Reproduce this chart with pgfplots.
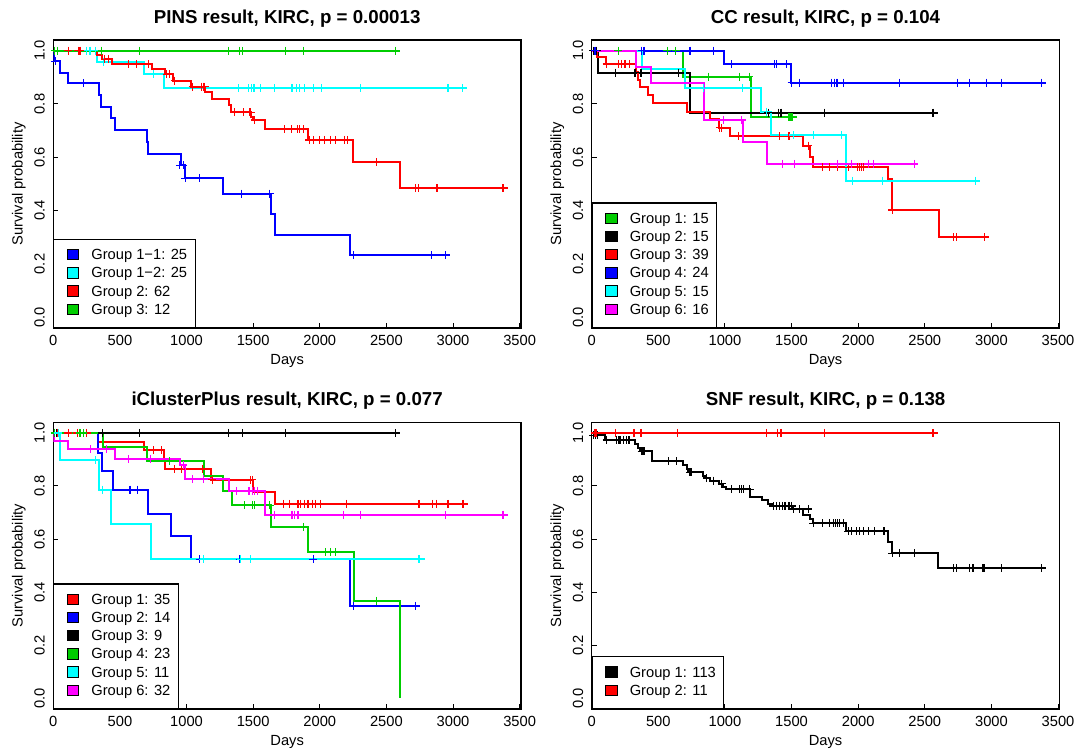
\documentclass[border=0pt]{standalone}
\usepackage{pgfplots}
\pgfplotsset{compat=1.18}
\usepackage{fontspec}
\setmainfont{Liberation Sans}
\definecolor{rblue}{RGB}{0,0,255}
\definecolor{rcyan}{RGB}{0,255,255}
\definecolor{rred}{RGB}{255,0,0}
\definecolor{rgreen}{RGB}{0,205,0}
\definecolor{rmag}{RGB}{255,0,255}
\newcommand{\tfont}{\fontsize{7.35}{8.8}\selectfont}
\pgfplotsset{
 km/.style={
  scale only axis, width=233.85pt, height=144pt,
  xmin=0, xmax=3510, ymin=-0.04, ymax=1.04,
  xtick={0,500,1000,1500,2000,2500,3000,3500},
  ytick={0,0.2,0.4,0.6,0.8,1},
  tick align=inside, tick pos=left, major tick length=2.5pt,
  axis line style={line width=0.65pt},
  every tick/.style={black, line width=0.5pt},
  tick label style={font=\tfont},
  /pgf/number format/assume math mode=true,
  xticklabel style={/pgf/number format/1000 sep={}, anchor=base},
  xticklabel shift=8.85pt,
  yticklabel={\pgfmathprintnumber[fixed,fixed zerofill,precision=1]{\tick}},
  yticklabel style={rotate=90, anchor=base},
  yticklabel shift=4.35pt,
  every axis title shift=0pt,
  title style={at={(axis description cs:0.5,1)}, anchor=base, yshift=8.35pt, font=\bfseries\fontsize{9.35}{11}\selectfont},
  xlabel={Days}, ylabel={Survival probability},
  xlabel style={at={(axis description cs:0.5,0)}, anchor=base, yshift=-18.5pt, font=\tfont},
  ylabel style={at={(axis description cs:-0.0655,0.5)}, anchor=base, font=\tfont},
  legend style={at={(0,0)}, anchor=south west, draw=black, line width=0.6pt, fill=white, font=\tfont,
     inner xsep=3.5pt, inner ysep=4.6pt, row sep=1.45pt, cells={anchor=west},
     nodes={inner sep=0.5pt, text depth=0.15em}},
  legend image code/.code={\path (-2.8pt,0) (11.35pt,0); \draw[#1,draw=black,line width=0.4pt] (0pt,-1.85pt) rectangle (5.85pt,3.25pt);},
 },
 kml/.style={const plot, line width=1pt, forget plot, mark=none},
 kmc/.style={only marks, mark=+, mark size=2pt, mark options={line width=0.6pt}, forget plot},
}
\begin{document}
\begin{tikzpicture}
\useasboundingbox (0,0) rectangle (538.5pt,376.5pt);
% ---------------- PINS
\begin{axis}[km, at={(26.65pt,212.5pt)}, anchor=south west, title={PINS result, KIRC, p = 0.00013}]
\addplot[rblue,kml] coordinates {(0,1)(3,0.96)(50,0.918)(107,0.877)(342,0.833)(357,0.79)(430,0.746)(462,0.702)(700,0.658)(707,0.614)(955,0.57)(992,0.522)(1270,0.464)(1637,0.386)(1662,0.309)(2225,0.232)(2975,0.232)};
\addplot[rblue,kmc] coordinates {(15,0.96)(225,0.877)(950,0.57)(975,0.57)(992,0.522)(1100,0.522)(1412,0.464)(1625,0.464)(2255,0.232)(2837,0.232)(2945,0.232)};
\addplot[rcyan,kml] coordinates {(0,1)(330,0.959)(680,0.9125)(832,0.859)(3107,0.859)};
\addplot[rcyan,kmc] coordinates {(250,1)(275,1)(317,1)(375,0.959)(750,0.9125)(1387,0.859)(1462,0.859)(1487,0.859)(1500,0.859)(1512,0.859)(1555,0.859)(1662,0.859)(1792,0.859)(1825,0.859)(1845,0.859)(1887,0.859)(1950,0.859)(2012,0.859)(2305,0.859)(2962,0.859)(3070,0.859)};
\addplot[rred,kml] coordinates {(0,1)(325,0.984)(362,0.968)(437,0.949)(737,0.93)(837,0.911)(895,0.8875)(1037,0.865)(1142,0.845)(1192,0.8175)(1317,0.796)(1337,0.769)(1487,0.75)(1500,0.74)(1592,0.706)(1912,0.665)(2250,0.581)(2600,0.484)(3412,0.484)};
\addplot[rred,kmc] coordinates {(112,1)(187,1)(200,1)(387,0.968)(412,0.968)(562,0.949)(625,0.949)(712,0.949)(850,0.911)(875,0.911)(912,0.8875)(1045,0.865)(1112,0.865)(1125,0.865)(1137,0.865)(1362,0.769)(1430,0.769)(1475,0.769)(1482,0.769)(1512,0.74)(1737,0.706)(1787,0.706)(1830,0.706)(1845,0.706)(1880,0.706)(1920,0.665)(1955,0.665)(2000,0.665)(2037,0.665)(2080,0.665)(2117,0.665)(2187,0.665)(2205,0.665)(2425,0.581)(2720,0.484)(2742,0.484)(2880,0.484)(3375,0.484)};
\addplot[rgreen,kml] coordinates {(0,1)(2600,1)};
\addplot[rgreen,kmc] coordinates {(12,1)(30,1)(362,1)(645,1)(1312,1)(1395,1)(1417,1)(1742,1)(1875,1)(2567,1)};
\addlegendimage{fill=rblue}\addlegendentry{Group 1−1: 25}
\addlegendimage{fill=rcyan}\addlegendentry{Group 1−2: 25}
\addlegendimage{fill=rred}\addlegendentry{Group 2: 62}
\addlegendimage{fill=rgreen}\addlegendentry{Group 3: 12}
\end{axis}
% ---------------- CC
\begin{axis}[km, at={(295.85pt,212.5pt)}, anchor=south west, title={CC result, KIRC, p = 0.104}]
\addplot[rgreen,kml] coordinates {(0,1)(682,0.9025)(1192,0.75)(1537,0.75)};
\addplot[rgreen,kmc] coordinates {(200,1)(567,1)(630,1)(875,0.9025)(1107,0.9025)(1182,0.9025)(1480,0.75)(1490,0.75)(1497,0.75)(1505,0.75)};
\addplot[black,kml] coordinates {(0,1)(50,0.9175)(735,0.7675)(2600,0.7675)};
\addplot[black,kmc] coordinates {(12,1)(37,1)(180,0.9175)(325,0.9175)(370,0.9175)(650,0.9175)(1325,0.7675)(1400,0.7675)(1420,0.7675)(1745,0.7675)(2562,0.7675)};
\addplot[rred,kml] coordinates {(0,1)(42,0.975)(107,0.95)(332,0.92)(345,0.89)(362,0.865)(425,0.834)(460,0.8025)(712,0.771)(887,0.742)(955,0.711)(1037,0.679)(1587,0.644)(1637,0.6025)(1662,0.5625)(2225,0.5175)(2257,0.4025)(2605,0.30)(2982,0.30)};
\addplot[rred,kmc] coordinates {(112,0.95)(200,0.95)(225,0.95)(250,0.95)(282,0.95)(962,0.711)(975,0.711)(1100,0.679)(1412,0.679)(1480,0.679)(1625,0.644)(1730,0.5625)(1782,0.5625)(1842,0.5625)(1925,0.5625)(1992,0.5625)(2007,0.5625)(2025,0.5625)(2042,0.5625)(2257,0.4025)(2717,0.30)(2737,0.30)(2950,0.30)};
\addplot[rblue,kml] coordinates {(0,1)(992,0.949)(1492,0.88)(3412,0.88)};
\addplot[rblue,kmc] coordinates {(25,1)(375,1)(392,1)(737,1)(912,1)(1050,0.949)(1370,0.949)(1387,0.949)(1462,0.949)(1500,0.88)(1557,0.88)(1800,0.88)(1825,0.88)(1835,0.88)(1845,0.88)(1887,0.88)(2307,0.88)(2745,0.88)(2837,0.88)(2962,0.88)(3075,0.88)(3375,0.88)};
\addplot[rcyan,kml] coordinates {(0,1)(375,0.93)(700,0.859)(1270,0.771)(1342,0.684)(1912,0.5125)(2912,0.5125)};
\addplot[rcyan,kmc] coordinates {(837,0.859)(1132,0.859)(1310,0.771)(1512,0.684)(1667,0.684)(1875,0.684)(1957,0.5125)(2182,0.5125)(2882,0.5125)};
\addplot[rmag,kml] coordinates {(0,1)(332,0.9375)(445,0.8775)(840,0.74)(1132,0.659)(1317,0.575)(2450,0.575)};
\addplot[rmag,kmc] coordinates {(992,0.74)(1125,0.74)(1432,0.575)(1520,0.575)(1845,0.575)(1950,0.575)(2075,0.575)(2112,0.575)(2420,0.575)};
\addlegendimage{fill=rgreen}\addlegendentry{Group 1: 15}
\addlegendimage{fill=black}\addlegendentry{Group 2: 15}
\addlegendimage{fill=rred}\addlegendentry{Group 3: 39}
\addlegendimage{fill=rblue}\addlegendentry{Group 4: 24}
\addlegendimage{fill=rcyan}\addlegendentry{Group 5: 15}
\addlegendimage{fill=rmag}\addlegendentry{Group 6: 16}
\end{axis}
% ---------------- iClusterPlus
\begin{axis}[km, at={(26.65pt,22pt)}, anchor=south west, height=143.35pt, title={iClusterPlus result, KIRC, p = 0.077}]
\addplot[rred,kml] coordinates {(0,1)(337,0.966)(682,0.935)(832,0.90)(842,0.864)(1187,0.823)(1500,0.779)(1662,0.733)(3112,0.733)};
\addplot[rred,kmc] coordinates {(30,1)(112,1)(180,1)(195,1)(250,1)(750,0.935)(812,0.935)(907,0.864)(962,0.864)(1117,0.864)(1192,0.823)(1482,0.823)(1492,0.823)(1725,0.733)(1775,0.733)(1837,0.733)(1855,0.733)(1887,0.733)(1912,0.733)(1945,0.733)(1970,0.733)(2007,0.733)(2200,0.733)(2745,0.733)(2845,0.733)(2875,0.733)(2962,0.733)(3075,0.733)};
\addplot[rblue,kml] coordinates {(0,1)(337,0.926)(362,0.857)(445,0.786)(707,0.696)(882,0.61)(1037,0.524)(2225,0.348)(2750,0.348)};
\addplot[rblue,kmc] coordinates {(575,0.786)(630,0.786)(1100,0.524)(1400,0.524)(1950,0.524)(2255,0.348)(2717,0.348)};
\addplot[black,kml] coordinates {(0,1)(2600,1)};
\addplot[black,kmc] coordinates {(12,1)(25,1)(367,1)(645,1)(1312,1)(1420,1)(1742,1)(2567,1)};
\addplot[rgreen,kml] coordinates {(0,1)(375,0.948)(700,0.894)(1132,0.839)(1270,0.782)(1342,0.727)(1637,0.646)(1912,0.552)(2255,0.368)(2600,0)};
\addplot[rgreen,kmc] coordinates {(12,1)(200,1)(225,1)(870,0.894)(1432,0.727)(1492,0.727)(1512,0.727)(1625,0.727)(1875,0.646)(2045,0.552)(2080,0.552)(2120,0.552)(2425,0.368)};
\addplot[rcyan,kml] coordinates {(0,1)(50,0.898)(342,0.786)(430,0.655)(732,0.524)(2787,0.524)};
\addplot[rcyan,kmc] coordinates {(37,1)(317,0.898)(370,0.786)(1125,0.524)(1405,0.524)(1480,0.524)(2745,0.524)};
\addplot[rmag,kml] coordinates {(0,1)(2,0.97)(107,0.938)(462,0.9015)(950,0.879)(992,0.825)(1317,0.782)(1587,0.692)(3412,0.692)};
\addplot[rmag,kmc] coordinates {(280,0.938)(400,0.938)(562,0.9015)(732,0.9015)(975,0.879)(1042,0.825)(1130,0.825)(1375,0.782)(1462,0.782)(1475,0.782)(1495,0.782)(1512,0.782)(1530,0.782)(1662,0.692)(1792,0.692)(1812,0.692)(1837,0.692)(2180,0.692)(2305,0.692)(2942,0.692)(3375,0.692)};
\addlegendimage{fill=rred}\addlegendentry{Group 1: 35}
\addlegendimage{fill=rblue}\addlegendentry{Group 2: 14}
\addlegendimage{fill=black}\addlegendentry{Group 3: 9}
\addlegendimage{fill=rgreen}\addlegendentry{Group 4: 23}
\addlegendimage{fill=rcyan}\addlegendentry{Group 5: 11}
\addlegendimage{fill=rmag}\addlegendentry{Group 6: 32}
\end{axis}
% ---------------- SNF
\begin{axis}[km, at={(295.85pt,22pt)}, anchor=south west, height=143.35pt, title={SNF result, KIRC, p = 0.138}]
\addplot[black,kml] coordinates {(0,1)(25,0.991)(100,0.973)(325,0.96)(345,0.945)(360,0.93)(450,0.893)(682,0.879)(712,0.8625)(725,0.852)(837,0.838)(850,0.83)(887,0.82)(957,0.808)(987,0.798)(1007,0.788)(1187,0.758)(1275,0.746)(1325,0.733)(1350,0.725)(1500,0.713)(1587,0.69)(1637,0.677)(1662,0.659)(1912,0.63)(2225,0.589)(2250,0.546)(2600,0.49)(3412,0.49)};
\addplot[black,kmc] coordinates {(12,0.991)(30,0.991)(42,0.991)(112,0.973)(187,0.973)(200,0.973)(212,0.973)(237,0.973)(262,0.973)(280,0.973)(375,0.93)(385,0.93)(395,0.93)(575,0.893)(637,0.893)(737,0.852)(750,0.852)(862,0.83)(912,0.82)(975,0.808)(1050,0.788)(1112,0.788)(1125,0.788)(1137,0.788)(1187,0.788)(1362,0.725)(1387,0.725)(1412,0.725)(1430,0.725)(1450,0.725)(1475,0.725)(1487,0.725)(1500,0.725)(1512,0.713)(1562,0.713)(1625,0.713)(1662,0.659)(1732,0.659)(1787,0.659)(1812,0.659)(1832,0.659)(1845,0.659)(1862,0.659)(1887,0.659)(1925,0.63)(1950,0.63)(1987,0.63)(2012,0.63)(2037,0.63)(2075,0.63)(2125,0.63)(2187,0.63)(2200,0.63)(2257,0.546)(2307,0.546)(2420,0.546)(2717,0.49)(2737,0.49)(2837,0.49)(2862,0.49)(2937,0.49)(2950,0.49)(3075,0.49)(3375,0.49)};
\addplot[rred,kml] coordinates {(0,1)(2600,1)};
\addplot[rred,kmc] coordinates {(25,1)(37,1)(180,1)(317,1)(370,1)(645,1)(1312,1)(1395,1)(1420,1)(1745,1)(2562,1)};
\addlegendimage{fill=black}\addlegendentry{Group 1: 113}
\addlegendimage{fill=rred}\addlegendentry{Group 2: 11}
\end{axis}
\end{tikzpicture}
\end{document}
